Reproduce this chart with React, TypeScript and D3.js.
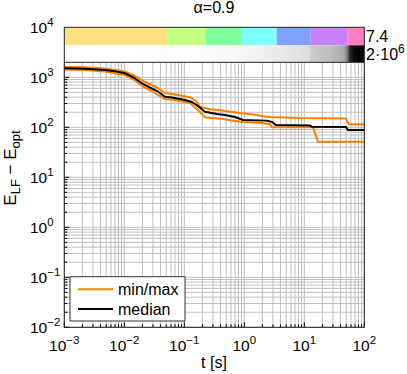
import React from "react";
import * as d3 from "d3";

const W = 407;
const H = 374;

// data: [t (s), E_LF - E_opt]
const medianT = [0.001, 0.00221, 0.00477, 0.0070, 0.01028, 0.01507, 0.01828, 0.0221, 0.0286, 0.0365, 0.0477, 0.0624, 0.1028, 0.134, 0.169, 0.221, 0.347, 0.477, 0.70, 0.951, 2.36, 2.90, 3.37, 12.4, 13.4, 49.5, 53.5, 100];
const medianE = [1514, 1479, 1400, 1318, 1202, 955, 805, 701, 603, 520, 409, 394, 352, 321, 267, 205, 185, 176, 161, 140, 136, 128, 111, 109, 103, 101, 88, 88];

const maxT = [0.001, 0.00221, 0.00477, 0.01028, 0.01507, 0.0221, 0.0286, 0.0365, 0.0477, 0.0624, 0.1245, 0.157, 0.183, 0.268, 0.365, 0.477, 0.848, 1.245, 2.21, 2.68, 8.47, 49.5, 55.6, 100];
const maxE = [1607, 1585, 1500, 1306, 1062, 805, 701, 611, 485, 463, 398, 336, 258, 229, 222, 212, 193, 185, 164, 161, 153, 150, 115, 115];

const minT = [0.001, 0.00221, 0.00477, 0.01028, 0.01507, 0.0221, 0.0286, 0.0365, 0.0477, 0.070, 0.1245, 0.169, 0.221, 0.442, 0.848, 1.97, 2.68, 2.90, 13.96, 16.9, 100];
const minE = [1432, 1400, 1306, 1112, 863, 611, 532, 443, 368, 352, 306, 222, 158, 147, 129, 122, 115, 100, 100, 51.5, 51.5];

// colour bar segments (time boundaries) and colours
const segBounds = [0.001, 0.0509, 0.230, 0.906, 3.47, 12.8, 52.8, 100];
const segColors = ["#ffe080", "#c4ff80", "#80ff9e", "#80ffff", "#80a0ff", "#c880ff", "#ff80c0"];

// gray bar stops
const grayT = [0.001, 0.095, 0.578, 1.83, 5.78, 12, 12.9, 26.8, 45.9, 51.5, 57.8, 67.3, 100];
const grayV = [255, 254, 248, 240, 230, 220, 205, 190, 170, 130, 40, 10, 0];

const xTicks = [-3, -2, -1, 0, 1, 2];
const yTicks = [-2, -1, 0, 1, 2, 3, 4];

const title = "α=0.9";
const colorLabel = "7.4";
const xLabel = "t [s]";

const left = 64.3, right = 364.3, top = 27.3, bottom = 327.3;
const gridTop = 62.3;

const x = d3.scaleLog().domain([1e-3, 1e2]).range([left, right]);
const y = d3.scaleLog().domain([1e-2, 1e4]).range([bottom, top]);

const FONT = "'Liberation Sans', Arial, Helvetica, sans-serif";

function sup(e: number) {
  return e < 0 ? "\u2212" + Math.abs(e) : String(e);
}

export default function App() {
  const line = d3
    .line<[number, number]>()
    .x((d) => x(d[0]))
    .y((d) => y(d[1]));
  const zip = (a: number[], b: number[]) => a.map((v, i) => [v, b[i]] as [number, number]);

  const minorX: number[] = [];
  for (let e = -3; e < 2; e++) for (let k = 1; k < 10; k++) minorX.push(k * Math.pow(10, e));
  minorX.push(100);
  const minorY: number[] = [];
  for (let e = -2; e < 4; e++) for (let k = 1; k < 10; k++) minorY.push(k * Math.pow(10, e));

  const isMajor = (v: number) => Math.abs(Math.log10(v) - Math.round(Math.log10(v))) < 1e-9;

  const gx0 = x(1e-3), gx1 = x(1e2);

  return (
    <svg width={W} height={H} style={{ position: "absolute", left: 0, top: 0, background: "#fff" }} fontFamily={FONT}>
      <defs>
        <linearGradient id="gray" gradientUnits="userSpaceOnUse" x1={gx0} x2={gx1} y1={0} y2={0}>
          {grayT.map((t, i) => (
            <stop key={i} offset={(x(t) - gx0) / (gx1 - gx0)} stopColor={`rgb(${grayV[i]},${grayV[i]},${grayV[i]})`} />
          ))}
        </linearGradient>
      </defs>
      <rect x={0} y={0} width={W} height={H} fill="#fff" />
      {/* grid */}
      <g stroke="#bfbfbf" strokeWidth={1}>
        {minorX.map((v, i) => (
          <line key={"gx" + i} x1={x(v)} x2={x(v)} y1={gridTop} y2={bottom} />
        ))}
        {minorY.filter((v) => y(v) > gridTop + 1).map((v, i) => (
          <line key={"gy" + i} x1={left} x2={right} y1={y(v)} y2={y(v)} />
        ))}
      </g>
      {/* ticks */}
      <g stroke="#000" strokeWidth={1}>
        {minorX.map((v, i) => (
          <line key={"tx" + i} x1={x(v)} x2={x(v)} y1={bottom} y2={bottom - (isMajor(v) ? 5 : 3)} />
        ))}
        {minorY.filter((v) => y(v) > gridTop + 1).map((v, i) => (
          <line key={"ty" + i} x1={left} x2={left + (isMajor(v) ? 5 : 3)} y1={y(v)} y2={y(v)} />
        ))}
      </g>
      {/* colour bar */}
      {segColors.map((c, i) => (
        <rect key={"seg" + i} x={x(segBounds[i])} y={top} width={x(segBounds[i + 1]) - x(segBounds[i])} height={18} fill={c} />
      ))}
      <rect x={left} y={top + 18} width={right - left} height={gridTop - top - 18} fill="url(#gray)" />
      {/* curves */}
      <path d={line(zip(maxT, maxE)) || ""} fill="none" stroke="#ff7f00" strokeWidth={2} />
      <path d={line(zip(minT, minE)) || ""} fill="none" stroke="#ff7f00" strokeWidth={2} />
      <path d={line(zip(medianT, medianE)) || ""} fill="none" stroke="#000" strokeWidth={2} />
      {/* frame */}
      <rect x={left} y={top} width={right - left} height={bottom - top} fill="none" stroke="#222" strokeWidth={1} />
      <line x1={left} x2={right} y1={gridTop} y2={gridTop} stroke="#222" strokeWidth={1} />
      {/* tick labels */}
      {xTicks.map((e) => (
        <text key={"xl" + e} x={x(Math.pow(10, e))} y={351} textAnchor="middle" fontSize={15.5} fill="#000">
          10<tspan dy={-7} fontSize={11.5}>{sup(e)}</tspan>
        </text>
      ))}
      {yTicks.map((e) => (
        <text key={"yl" + e} x={30} y={y(Math.pow(10, e)) + 6} textAnchor="start" fontSize={15.5} fill="#000">
          10<tspan dy={-7} fontSize={11.5}>{sup(e)}</tspan>
        </text>
      ))}
      {/* right labels */}
      <text x={366} y={42} fontSize={16} fill="#000">{colorLabel}</text>
      <text x={366} y={60} fontSize={16} fill="#000">
        2·10<tspan dy={-7} fontSize={12}>6</tspan>
      </text>
      {/* title */}
      <text x={214} y={13} textAnchor="middle" fontSize={16} fill="#000">{title}</text>
      {/* x label */}
      <text x={214} y={368} textAnchor="middle" fontSize={16} fill="#000">{xLabel}</text>
      {/* y label */}
      <text transform="translate(16,168) rotate(-90)" textAnchor="middle" fontSize={17} fill="#000">
        E<tspan dy={4} fontSize={13}>LF</tspan><tspan dy={-4}> − E</tspan><tspan dy={4} fontSize={13}>opt</tspan>
      </text>
      {/* legend */}
      <rect x={70} y={276.7} width={115} height={44.3} fill="#fff" stroke="#333" strokeWidth={1} />
      <line x1={78} x2={113} y1={289.3} y2={289.3} stroke="#ff7f00" strokeWidth={2} />
      <line x1={78} x2={113} y1={309} y2={309} stroke="#000" strokeWidth={2} />
      <text x={118} y={295} fontSize={16} fill="#000">min/max</text>
      <text x={118} y={315} fontSize={16} fill="#000">median</text>
    </svg>
  );
}
